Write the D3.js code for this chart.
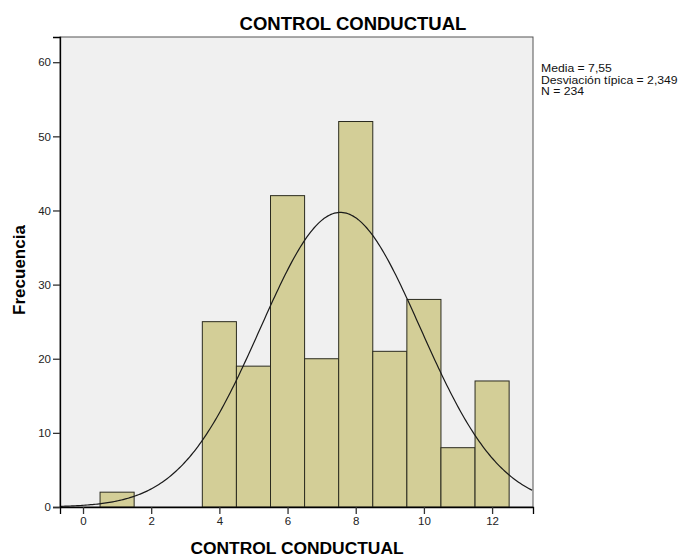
<!DOCTYPE html>
<html>
<head>
<meta charset="utf-8">
<script src="https://cdn.jsdelivr.net/npm/d3@7"></script>
<style>
body { margin: 0; background: #fff; }
text { font-family: "Liberation Sans", Arial, sans-serif; }
</style>
</head>
<body>
<div id="chart"></div>
<script>
// histogram bins (centered on integer scores, width 1)
const binCenters = [1, 4, 5, 6, 7, 8, 9, 10, 11, 12];
const binCounts = [2, 25, 19, 42, 20, 52, 21, 28, 8, 17];
const xTicks = [0, 2, 4, 6, 8, 10, 12];
const yTicks = [0, 10, 20, 30, 40, 50, 60];
const stats = { media: 7.55, sd: 2.349, n: 234 };
const legendLines = ["Media = 7,55", "Desviación típica = 2,349", "N = 234"];

const width = 682, height = 558;
const plot = { left: 60, right: 533, top: 37, bottom: 507 };

let svg = d3.select("#chart").append("svg")
    .attr("width", width)
    .attr("height", height);

let x = d3.scaleLinear()
    .domain([-0.675, 13.2])
    .range([plot.left, plot.right]);

let y = d3.scaleLinear()
    .domain([0, 63.4])
    .range([plot.bottom, plot.top]);

// plot background
svg.append("rect")
    .attr("x", plot.left)
    .attr("y", plot.top)
    .attr("width", plot.right - plot.left)
    .attr("height", plot.bottom - plot.top)
    .attr("fill", "#f0f0f0")
    .attr("stroke", "#555")
    .attr("stroke-width", 1);

// bars
svg.selectAll("rect.bar")
    .data(binCenters)
    .enter()
    .append("rect")
    .attr("class", "bar")
    .attr("x", d => x(d - 0.5))
    .attr("width", d => x(d + 0.5) - x(d - 0.5))
    .attr("y", (d, i) => y(binCounts[i]))
    .attr("height", (d, i) => y(0) - y(binCounts[i]))
    .attr("fill", "#d3ce97")
    .attr("stroke", "#2b2b1f")
    .attr("stroke-width", 1);

// fitted normal curve
let curveX = d3.range(x.domain()[0], x.domain()[1] + 0.001, 0.05);
let normal = v => stats.n / (stats.sd * Math.sqrt(2 * Math.PI)) *
    Math.exp(-0.5 * Math.pow((v - stats.media) / stats.sd, 2));

svg.append("path")
    .datum(curveX)
    .attr("d", d3.line().x(d => x(d)).y(d => y(normal(d))))
    .attr("fill", "none")
    .attr("stroke", "#1a1a1a")
    .attr("stroke-width", 1.2);

// axes
let xAxis = svg.append("g")
    .attr("transform", "translate(0," + plot.bottom + ")")
    .call(d3.axisBottom(x).tickValues(xTicks).tickSize(7).tickPadding(3));
let yAxis = svg.append("g")
    .attr("transform", "translate(" + plot.left + ",0)")
    .call(d3.axisLeft(y).tickValues(yTicks).tickSize(7).tickPadding(2));

[xAxis, yAxis].forEach(g => {
  g.select(".domain").attr("stroke", "#000").attr("stroke-width", 1.3);
  g.selectAll(".tick line").attr("stroke", "#333").attr("stroke-width", 1.3);
  g.selectAll(".tick text")
    .attr("fill", "#222")
    .style("font-size", "11.5px")
    .style("font-family", "'Liberation Sans', Arial, sans-serif");
});

// titles
svg.append("text")
    .attr("x", 353).attr("y", 30)
    .attr("text-anchor", "middle")
    .style("font-size", "18.5px").style("font-weight", "bold")
    .text("CONTROL CONDUCTUAL");

svg.append("text")
    .attr("x", 297).attr("y", 554)
    .attr("text-anchor", "middle")
    .style("font-size", "17.4px").style("font-weight", "bold")
    .text("CONTROL CONDUCTUAL");

svg.append("text")
    .attr("transform", "translate(25,270) rotate(-90)")
    .attr("text-anchor", "middle")
    .style("font-size", "17px").style("font-weight", "bold")
    .text("Frecuencia");

// stats legend (slightly widened to match the original rendering)
svg.selectAll("text.legend")
    .data(legendLines)
    .enter()
    .append("text")
    .attr("class", "legend")
    .attr("transform", (d, i) => "translate(541," + (72 + i * 11.5) + ") scale(1.11,1)")
    .style("font-size", "11px")
    .attr("fill", "#111")
    .text(d => d);
</script>
</body>
</html>
